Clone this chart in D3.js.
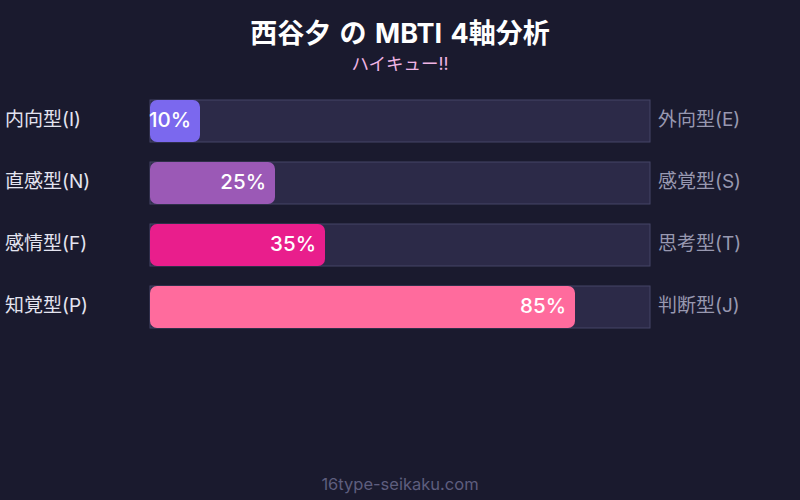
<!DOCTYPE html>
<html>
<head>
<meta charset="utf-8">
<script src="https://cdn.jsdelivr.net/npm/d3@7"></script>
<style>
  body { margin: 0; background: #1a1a2e; }
  svg text { font-family: Inter, "Noto Sans CJK JP", sans-serif; }
</style>
</head>
<body>
<div id="chart"></div>
<script>
const leftLabels = ["内向型(I)", "直感型(N)", "感情型(F)", "知覚型(P)"];
const rightLabels = ["外向型(E)", "感覚型(S)", "思考型(T)", "判断型(J)"];
const values = [10, 25, 35, 85];
const colors = ["#7b68ee", "#9b59b6", "#e91e8c", "#ff6b9d"];

const width = 800;
const height = 500;

const svg = d3.select("#chart")
  .append("svg")
  .attr("width", width)
  .attr("height", height)
  .style("background-color", "#1a1a2e");

svg.append("text")
  .attr("x", width / 2)
  .attr("y", 43)
  .attr("text-anchor", "middle")
  .attr("fill", "#ffffff")
  .attr("font-size", "27px")
  .attr("font-weight", "bold")
  .attr("word-spacing", "2px")
  .text("西谷夕 の MBTI 4軸分析");

svg.append("text")
  .attr("x", width / 2)
  .attr("y", 70)
  .attr("text-anchor", "middle")
  .attr("fill", "#f0b4e4")
  .attr("font-size", "17.5px")
  .text("ハイキュー!!");

const x = d3.scaleLinear().domain([0, 100]).range([150, 650]);
const y = d3.scaleBand()
  .domain(d3.range(values.length))
  .range([100, 328])
  .paddingInner(20 / 62)
  .paddingOuter(0);

const rows = svg.append("g")
  .selectAll("g")
  .data(values)
  .join("g");

rows.append("rect")
  .attr("x", x(0))
  .attr("y", (d, i) => y(i))
  .attr("width", x(100) - x(0))
  .attr("height", y.bandwidth())
  .attr("fill", "#2c2a48")
  .attr("stroke", "#454566")
  .attr("stroke-width", 1);

rows.append("rect")
  .attr("x", x(0))
  .attr("y", (d, i) => y(i))
  .attr("width", d => x(d) - x(0))
  .attr("height", y.bandwidth())
  .attr("rx", 7)
  .attr("fill", (d, i) => colors[i]);

rows.append("text")
  .attr("x", d => x(d) - 9)
  .attr("y", (d, i) => y(i) + y.bandwidth() / 2 - 1)
  .attr("dy", "0.35em")
  .attr("text-anchor", "end")
  .attr("fill", "#ffffff")
  .attr("font-size", "20.5px")
  .attr("font-weight", 500)
  .text(d => d + "%");

rows.append("text")
  .attr("x", 5)
  .attr("y", (d, i) => y(i) + y.bandwidth() / 2 - 2)
  .attr("dy", "0.35em")
  .attr("fill", "#e4e4f0")
  .attr("font-size", "19px")
  .text((d, i) => leftLabels[i]);

rows.append("text")
  .attr("x", 658)
  .attr("y", (d, i) => y(i) + y.bandwidth() / 2 - 2)
  .attr("dy", "0.35em")
  .attr("fill", "#9898b0")
  .attr("font-size", "19px")
  .text((d, i) => rightLabels[i]);

svg.append("text")
  .attr("x", width / 2)
  .attr("y", 490)
  .attr("text-anchor", "middle")
  .attr("fill", "#5e5e7e")
  .attr("font-size", "16.5px")
  .text("16type-seikaku.com");
</script>
</body>
</html>
